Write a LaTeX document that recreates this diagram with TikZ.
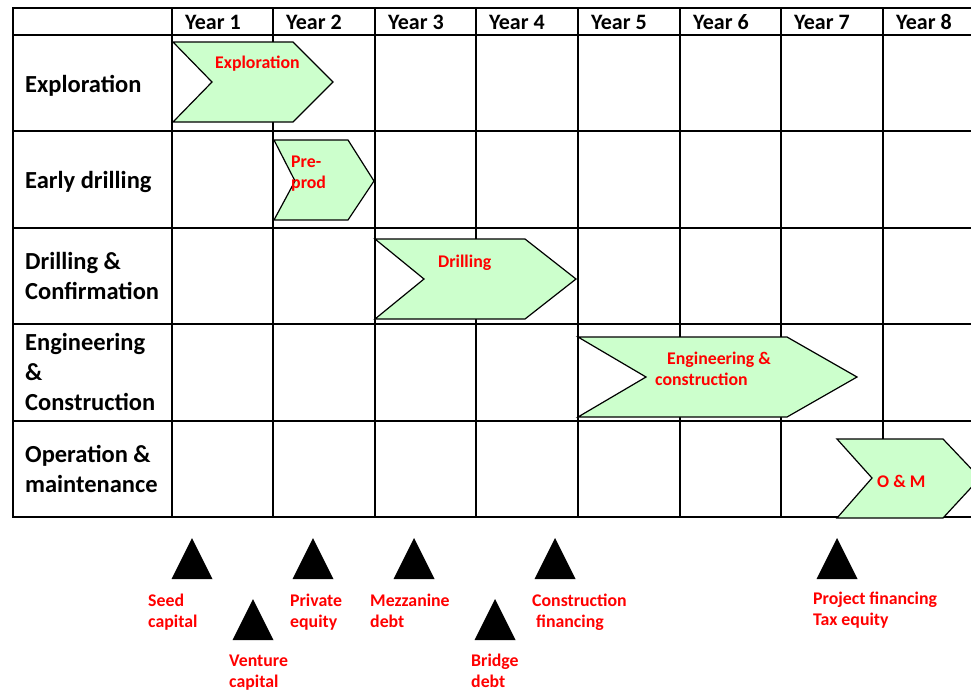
\documentclass[tikz,border=0pt]{standalone}
\usepackage{fontspec}
\setmainfont{Carlito}
\definecolor{chevfill}{HTML}{CCFFCC}
\definecolor{labred}{HTML}{FF0000}
\tikzset{
  gridline/.style={line width=2pt, black, line cap=rect},
  chevron/.style={fill=chevfill, draw=black, line width=1.2pt, line join=miter},
  rowlab/.style={font=\fontsize{24.5}{30}\selectfont\bfseries, anchor=base west, inner sep=0pt, align=left},
  yearlab/.style={font=\fontsize{22}{24}\selectfont\bfseries, anchor=base west, inner sep=0pt},
  redlab/.style={font=\fontsize{17.8}{21}\selectfont\bfseries, text=labred, anchor=base west, inner sep=0pt, align=left},
  fundtri/.style={fill=black, draw=none}
}
\begin{document}
\begin{tikzpicture}[x=1pt,y=-1pt]
\useasboundingbox (0,0) rectangle (971,689);
\clip (0,0) rectangle (971,689);
\fill[white] (0,0) rectangle (971,689);
% grid
\foreach \y in {8,35,131,228,324,421,517} \draw[gridline] (13,\y) -- (975,\y);
\foreach \x in {13,172,273,375,476,578,680,781,883} \draw[gridline] (\x,8) -- (\x,517);
% year headers
\foreach \x/\n in {172/1,273/2,375/3,476/4,578/5,680/6,781/7,883/8}
  \node[yearlab] (year\n) at (\x+13,29) {Year \n};
% row labels (anchor = baseline of last line)
\node[rowlab] (rExpl) at (25,92) {Exploration};
\node[rowlab] (rEarly) at (25,188) {Early drilling};
\node[rowlab] (rDrill) at (25,299) {Drilling \&\\Confirmation};
\node[rowlab] (rEng) at (25,410) {Engineering\\\&\\Construction};
\node[rowlab] (rOp) at (25,492) {Operation \&\\maintenance};
% chevrons
\draw[chevron] (173,42) -- (293,42) -- (333,82) -- (293,122) -- (173,122) -- (212,82) -- cycle;
\draw[chevron] (274,140) -- (348,140) -- (374,181) -- (348,220) -- (274,220) -- (295,181) -- cycle;
\draw[chevron] (375,239) -- (525,239) -- (576,279) -- (525,319) -- (375,319) -- (424,279) -- cycle;
\draw[chevron] (578,337) -- (787,337) -- (857,377) -- (787,417) -- (578,417) -- (646,377) -- cycle;
\draw[chevron] (837,439) -- (943,439) -- (980,478) -- (943,518) -- (837,518) -- (872,478) -- cycle;
% chevron labels
\node[redlab] (cExpl) at (215,68) {Exploration};
\node[redlab] (cPre) at (291,188) {Pre\mbox{-}\\prod};
\node[redlab] (cDrill) at (438,267) {Drilling};
\node[redlab] (cEng) at (655,385) {\hspace*{12pt}Engineering \&\\construction};
\node[redlab] (cOM) at (877,487) {O \& M};
% funding triangles
\foreach \cx/\ty in {192/538,313/538,414/538,555/538,837/538,253/599,495/599}
  \fill[fundtri] (\cx,\ty) -- (\cx+20.5,\ty+41) -- (\cx-20.5,\ty+41) -- cycle;
% funding labels (anchor = baseline of last line)
\node[redlab] (fSeed) at (148,627) {Seed\\capital};
\node[redlab] (fVent) at (229,687) {Venture\\capital};
\node[redlab] (fPriv) at (290,627) {Private\\equity};
\node[redlab] (fMezz) at (370,627) {Mezzanine\\debt};
\node[redlab] (fBridge) at (471,687) {Bridge\\debt};
\node[redlab] (fCons) at (532,627) {Construction\\\hspace*{4pt}financing};
\node[redlab] (fProj) at (813,625) {Project financing\\Tax equity};
\end{tikzpicture}
\end{document}
